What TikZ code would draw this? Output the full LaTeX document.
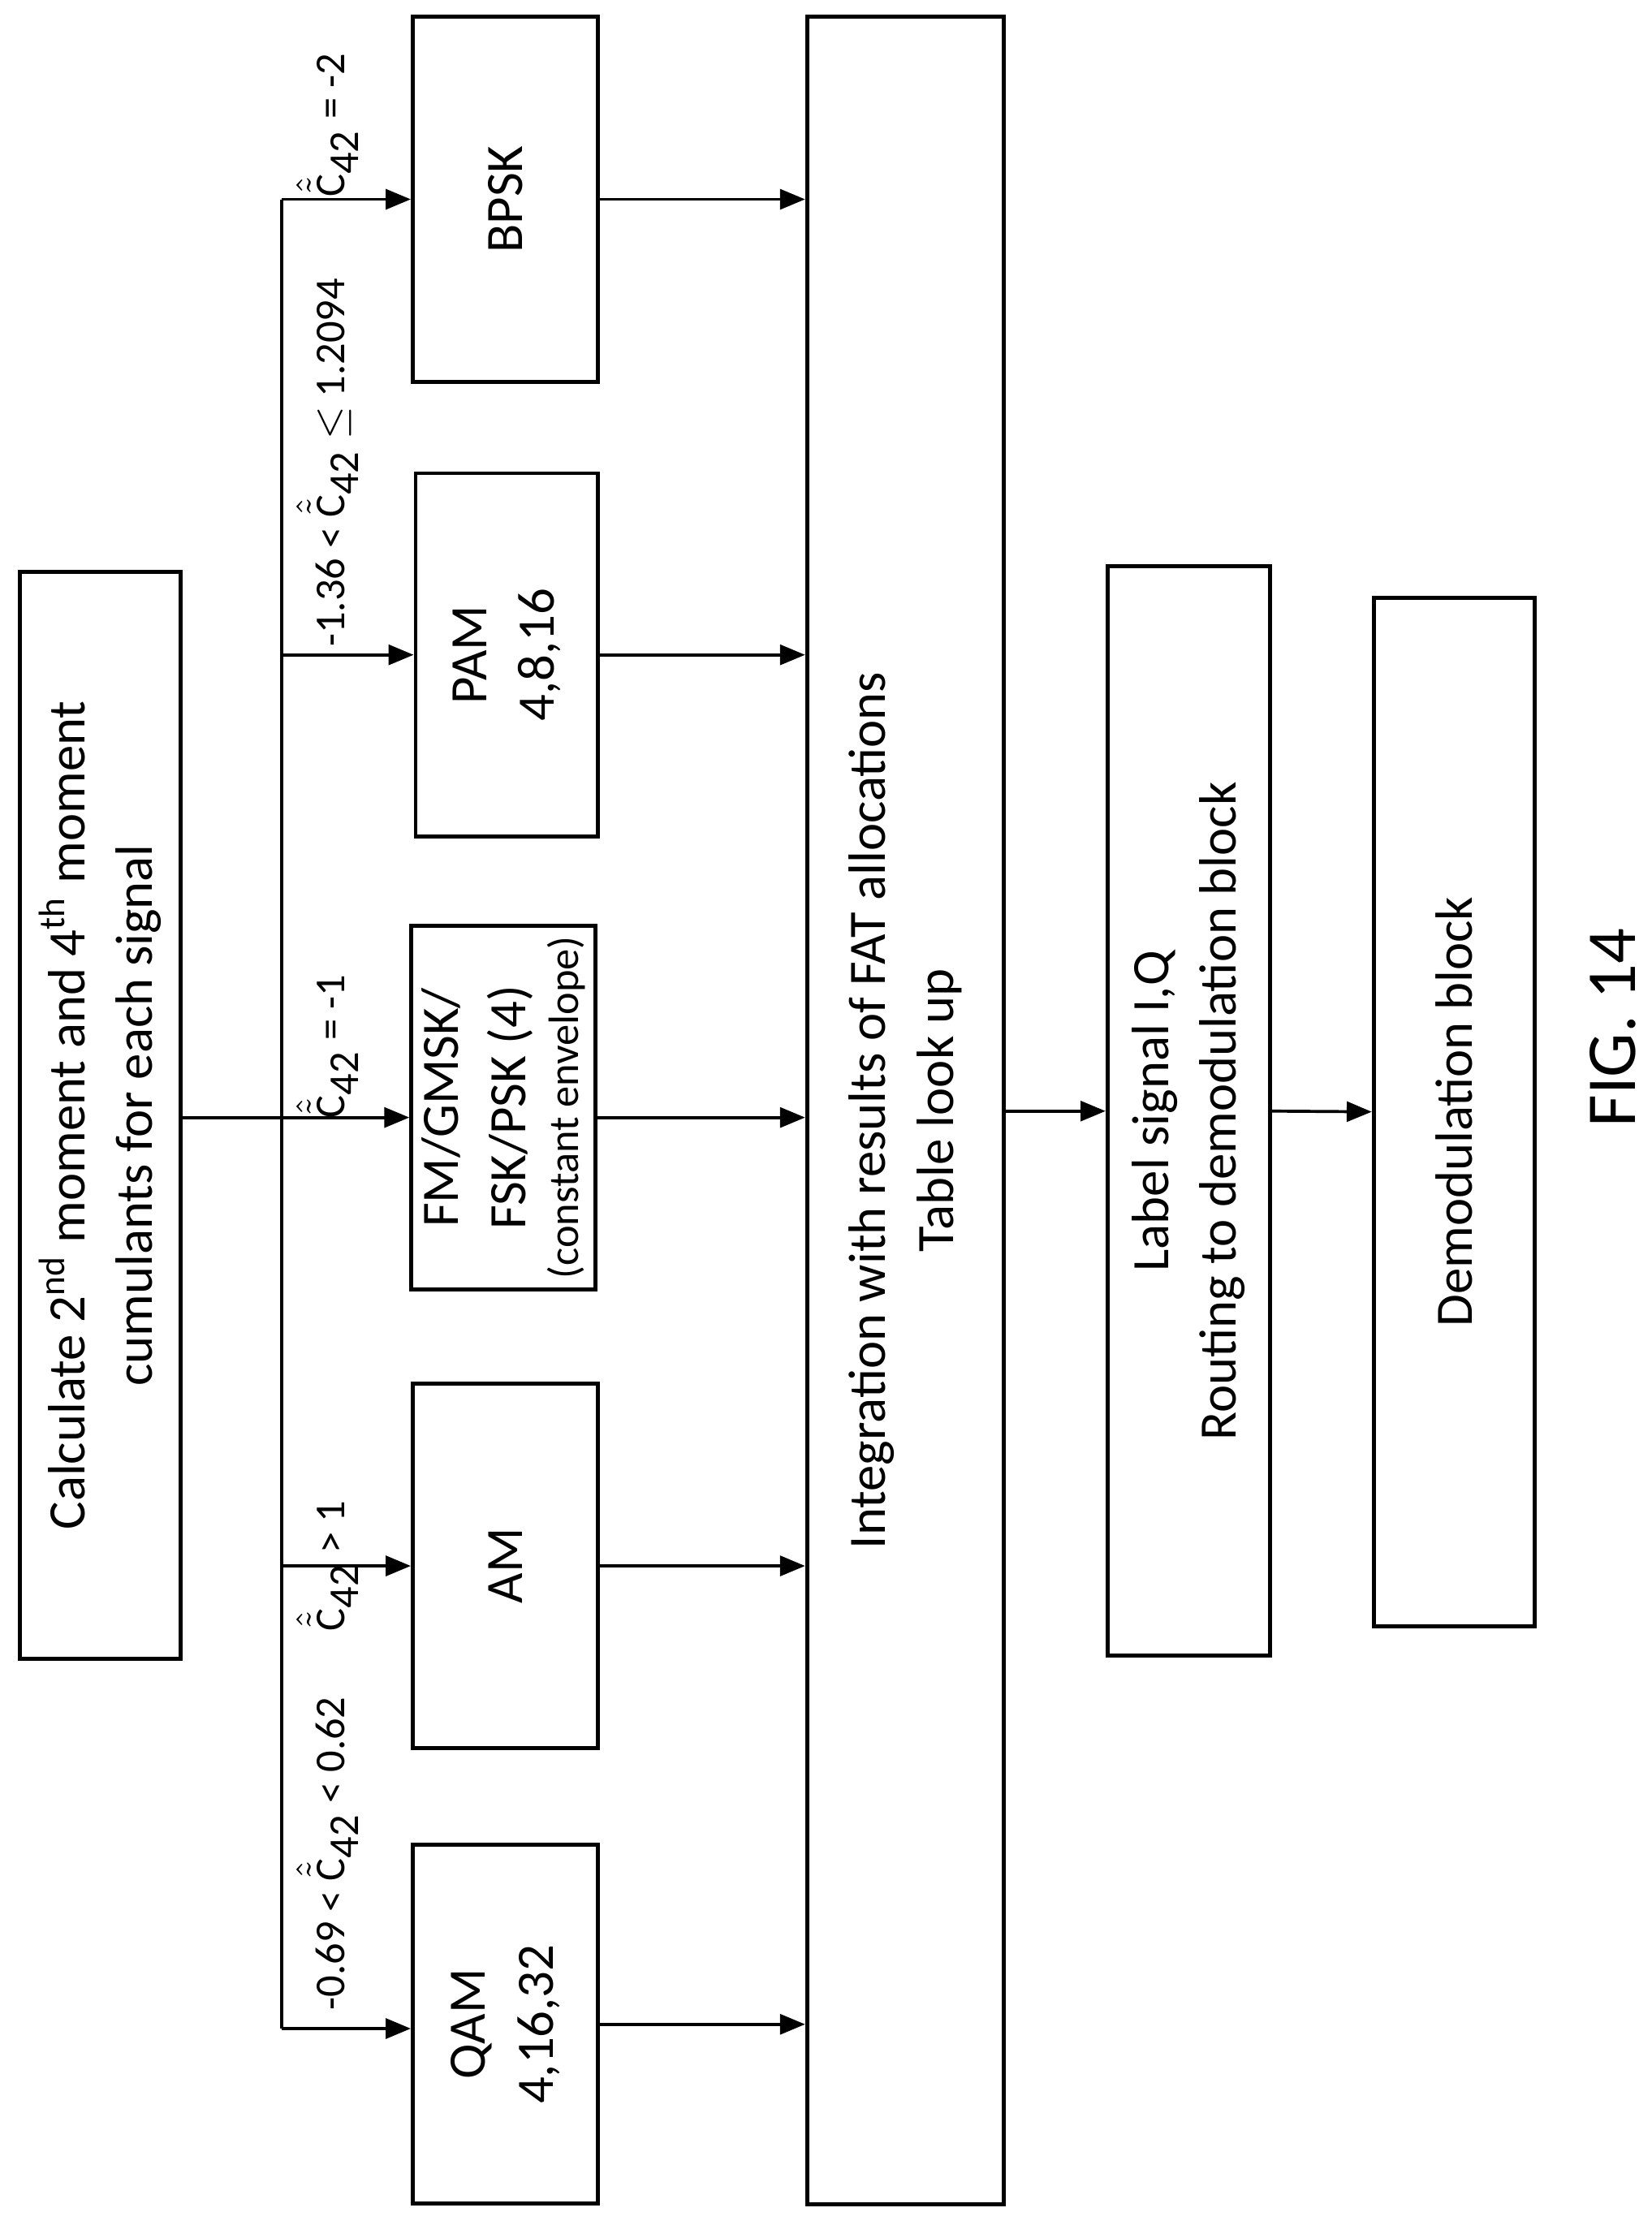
\documentclass[tikz,border=0pt]{standalone}
\usepackage{fontspec}
\setmainfont{Carlito}
\usetikzlibrary{arrows.meta}
\newcommand{\ctq}{$\hat{\tilde{\textrm{C}}}_{\textrm{42}}$}
\begin{document}
\begin{tikzpicture}[x={(0.01cm,0)}, y={(0,-0.01cm)},
    box/.style={draw, line width=0.8pt, rotate=90, align=center, inner sep=2pt,
        font=\fontsize{10.5}{13.5}\selectfont},
    cond/.style={rotate=90, anchor=south, inner sep=1pt, font=\fontsize{8.5}{10}\selectfont},
    flow/.style={-{Triangle[length=5pt,width=4pt]}, line width=0.6pt}]
    \useasboundingbox (0,0) rectangle (1160,1563);
    % left column
    \node [box, minimum width=7.63cm, minimum height=1.13cm] (calc) at (70.5,783.5)
        {Calculate 2\textsuperscript{nd} moment and 4\textsuperscript{th} moment\\ cumulants for each signal};
    % classifier boxes
    \node [box, minimum width=2.56cm, minimum height=1.30cm] (bpsk) at (355,140) {BPSK};
    \node [box, minimum width=2.55cm, minimum height=1.28cm] (pam) at (356,460) {PAM\\ 4,8,16};
    \node [box, minimum width=2.55cm, minimum height=1.29cm] (fm) at (353.5,778)
        {FM/GMSK/\\ FSK/PSK (4)\\[-3pt] {\fontsize{8.5}{10}\selectfont(constant envelope)}};
    \node [box, minimum width=2.56cm, minimum height=1.30cm] (am) at (355,1100) {AM};
    \node [box, minimum width=2.52cm, minimum height=1.30cm] (qam) at (355,1422) {QAM\\ 4,16,32};
    % right column
    \node [box, minimum width=15.36cm, minimum height=1.38cm] (integ) at (636,780)
        {Integration with results of FAT allocations\\ Table look up};
    \node [box, minimum width=7.65cm, minimum height=1.14cm] (lbl) at (835,780.5)
        {Label signal I,Q\\ Routing to demodulation block};
    \node [box, minimum width=7.22cm, minimum height=1.13cm] (demod) at (1021.5,781) {Demodulation block};
    \node [rotate=90, font=\fontsize{14}{17}\selectfont] (fig) at (1133,722) {FIG. 14};
    % branching
    \coordinate (top) at (198,140);
    \coordinate (mid) at (198,785);
    \coordinate (bot) at (198,1425);
    \draw [line width=0.6pt] (calc.south |- mid) -- (mid);
    \draw [line width=0.6pt] (top) -- (bot);
    \draw [flow] (top) -- (bpsk.north |- top);
    \draw [flow] (top |- pam) -- (pam.north);
    \draw [flow] (mid) -- (fm.north |- mid);
    \draw [flow] (top |- am) -- (am.north);
    \draw [flow] (bot) -- (qam.north |- bot);
    % conditions
    \node [cond] (cbpsk) at (256,88) {\ctq{} = -2};
    \node [cond] (cpam) at (256,325) {-1.36 < \ctq{} $\leq$ 1.2094};
    \node [cond] (cfm) at (256,735) {\ctq{} = -1};
    \node [cond] (cam) at (256,1100) {\ctq{} > 1};
    \node [cond] (cqam) at (256,1302) {-0.69 < \ctq{} < 0.62};
    % to integration
    \foreach \b in {bpsk,pam,am,qam}
        \draw [flow] (\b.south) -- (integ.north |- \b.south);
    \draw [flow] (fm.south |- mid) -- (integ.north |- mid);
    \draw [flow] (integ.south |- lbl) -- (lbl.north);
    \draw [flow] (lbl.south) -- (demod.north);
\end{tikzpicture}
\end{document}
